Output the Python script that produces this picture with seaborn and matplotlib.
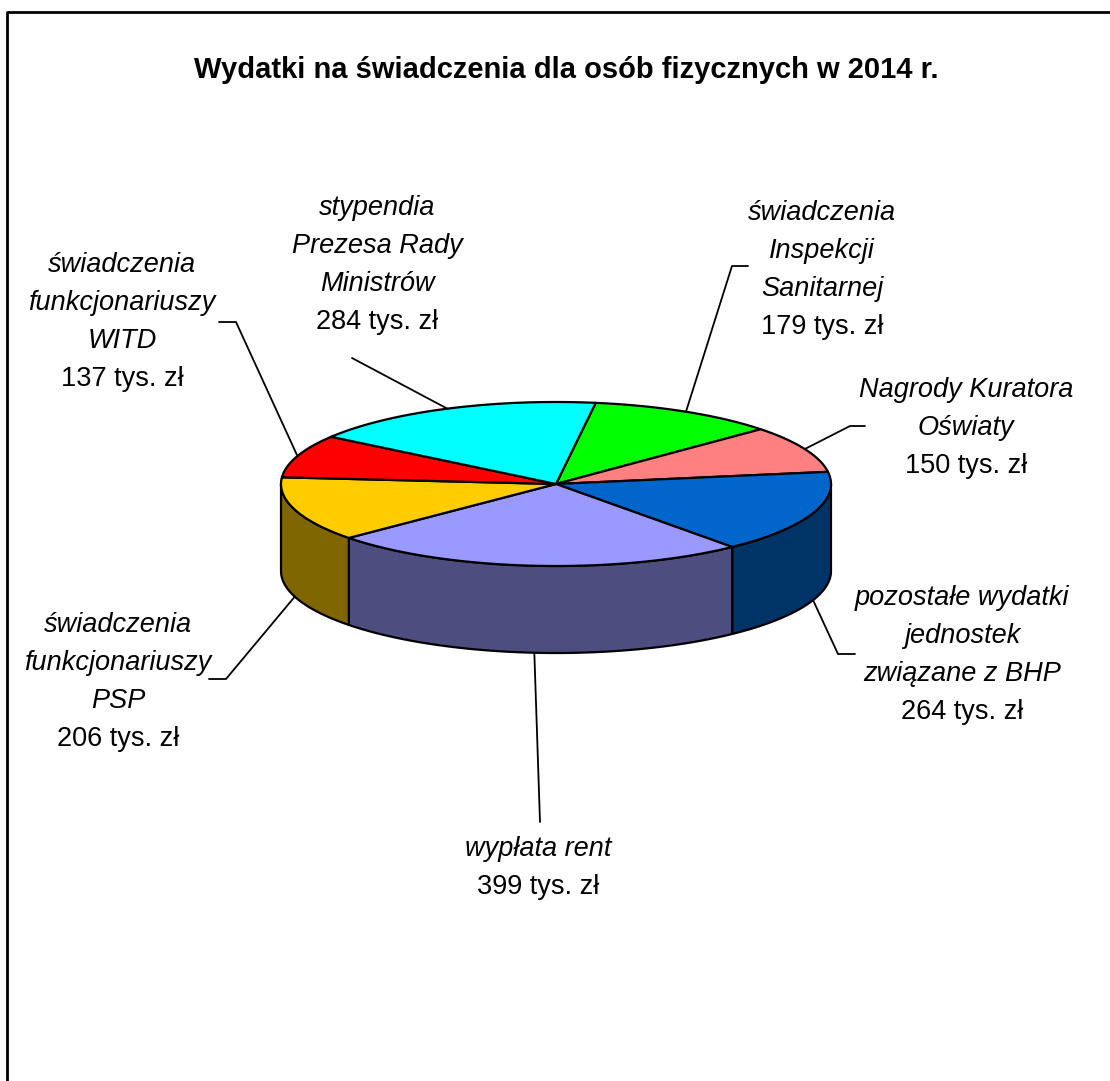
import numpy as np
import matplotlib
matplotlib.use("Agg")
import matplotlib.pyplot as plt
from matplotlib.patches import Polygon
from matplotlib.colors import to_rgb
import seaborn as sns

sns.set_theme(style="white")
plt.rcParams['font.family'] = ['Liberation Sans', 'DejaVu Sans']

# Data (clockwise from the top)
title = "Wydatki na świadczenia dla osób fizycznych w 2014 r."
categories = [
    ["świadczenia", "Inspekcji", "Sanitarnej"],
    ["Nagrody Kuratora", "Oświaty"],
    ["pozostałe wydatki", "jednostek", "związane z BHP"],
    ["wypłata rent"],
    ["świadczenia", "funkcjonariuszy", "PSP"],
    ["świadczenia", "funkcjonariuszy", "WITD"],
    ["stypendia", "Prezesa Rady", "Ministrów"],
]
values = [179, 150, 264, 399, 206, 137, 284]
unit = "tys. zł"
colors = ["#00FF00", "#FF8080", "#0066CC", "#9999FF", "#FFCC00", "#FF0000", "#00FFFF"]

# Layout (pixel coordinates)
label_pos = [(822, 213), (966, 390), (962, 598), (538, 849), (118, 625), (122, 265), (377, 208)]
leader_tail = [[(732, 266), (748, 266)], [(850, 426), (865, 426)], [(838, 654), (855, 654)],
               [(540, 822)], [(226, 679), (209, 679)], [(236, 322), (219, 322)], [(352, 358)]]
line_step = 38
cx, cy, a, b, depth = 556, 484, 275, 82, 87
start_angle = 81.7


def ell(t, dy=0.0):
    t = np.radians(t)
    return np.column_stack([cx + a * np.cos(t), cy - b * np.sin(t) + dy])


fig = plt.figure(figsize=(11.1, 10.81), dpi=100)
ax = fig.add_axes([0, 0, 1, 1])
ax.set_xlim(0, 1110)
ax.set_ylim(1081, 0)
ax.axis("off")

total = sum(values)
cum = np.cumsum([0] + values)
t0 = start_angle - 360 * cum[:-1] / total
t1 = start_angle - 360 * cum[1:] / total

# side walls of the front half
for i, c in enumerate(colors):
    lo, hi = max(t1[i], -180), min(t0[i], 0)
    if hi <= lo:
        continue
    ts = np.linspace(lo, hi, 120)
    pts = np.vstack([ell(ts), ell(ts[::-1], depth)])
    side = tuple(0.5 * v for v in to_rgb(c))
    ax.add_patch(Polygon(pts, closed=True, facecolor=side, edgecolor="black",
                         lw=1.6, joinstyle="round"))

# top face
for i, c in enumerate(colors):
    ts = np.linspace(t0[i], t1[i], 120)
    pts = np.vstack([[cx, cy], ell(ts)])
    ax.add_patch(Polygon(pts, closed=True, facecolor=c, edgecolor="black",
                         lw=1.6, joinstyle="round"))

# leader lines and labels
for i in range(len(values)):
    mid = (t0[i] + t1[i]) / 2
    dy = 0 if np.sin(np.radians(mid)) >= 0 else depth
    anchor = ell(np.array([mid]), dy)[0]
    pts = np.vstack([anchor] + [np.array(p) for p in leader_tail[i]])
    ax.plot(pts[:, 0], pts[:, 1], color="black", lw=1.3)

    x, y = label_pos[i]
    for k, line in enumerate(categories[i]):
        ax.text(x, y + k * line_step, line, ha="center", va="center",
                fontsize=19.5, fontstyle="italic", color="black")
    ax.text(x, y + len(categories[i]) * line_step, f"{values[i]} {unit}",
            ha="center", va="center", fontsize=19.5, color="black")

ax.text(566, 78, title, ha="center", va="baseline", fontsize=21,
        fontweight="bold", color="black")

# chart frame
ax.plot([7, 7, 1112], [1085, 12, 12], color="black", lw=2.0, clip_on=False)

fig.savefig("out.png", dpi=100)
